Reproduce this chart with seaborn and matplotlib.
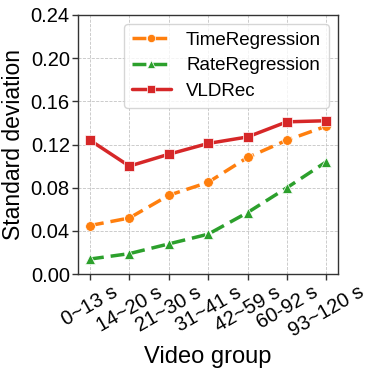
import matplotlib
matplotlib.use("Agg")
import matplotlib.pyplot as plt
import seaborn as sns
import pandas as pd

groups = ['0~13 s', '14~20 s', '21~30 s', '31~41 s', '42~59 s', '60-92 s', '93~120 s']
time_regression = [0.045, 0.052, 0.073, 0.085, 0.108, 0.124, 0.137]
rate_regression = [0.014, 0.019, 0.028, 0.037, 0.057, 0.080, 0.104]
vldrec = [0.124, 0.100, 0.111, 0.121, 0.127, 0.141, 0.142]
y_ticks = [0.00, 0.04, 0.08, 0.12, 0.16, 0.20, 0.24]

sns.set_style('ticks')
plt.rcParams['font.family'] = ['Liberation Sans', 'DejaVu Sans']
plt.rcParams['text.color'] = 'black'
plt.rcParams['axes.labelcolor'] = 'black'
plt.rcParams['xtick.color'] = 'black'
plt.rcParams['ytick.color'] = 'black'

df = pd.DataFrame({
    'group': groups * 3,
    'x': list(range(len(groups))) * 3,
    'value': time_regression + rate_regression + vldrec,
    'method': ['TimeRegression'] * 7 + ['RateRegression'] * 7 + ['VLDRec'] * 7,
})

fig = plt.figure(figsize=(3.74, 3.72), dpi=100)
ax = fig.add_axes([0.209, 0.263, 0.695, 0.697])

palette = {'TimeRegression': '#ff7f0e', 'RateRegression': '#2ca02c', 'VLDRec': '#d62728'}
markers = {'TimeRegression': 'o', 'RateRegression': '^', 'VLDRec': 's'}
dashes = {'TimeRegression': (4, 2), 'RateRegression': (4, 2), 'VLDRec': ''}

sns.lineplot(data=df, x='x', y='value', hue='method', style='method',
             palette=palette, markers=markers, dashes=dashes,
             linewidth=2.5, markersize=7, markeredgewidth=0.5, ax=ax)

ax.set_xlim(-0.3, 6.3)
ax.set_ylim(0, 0.24)
ax.set_xticks(range(len(groups)))
ax.set_xticklabels(groups, rotation=30, ha='center', fontsize=14.5)
ax.set_yticks(y_ticks)
ax.set_yticklabels([f'{t:.2f}' for t in y_ticks], fontsize=14.5)
ax.set_xlabel('Video group', fontsize=17)
ax.set_ylabel('Standard deviation', fontsize=16.5)
ax.grid(True, linestyle='--', color='#c4c4c4', linewidth=0.6)
for s in ax.spines.values():
    s.set_color('#333333')
    s.set_linewidth(1.0)
ax.tick_params(length=4, width=1, color='#333333', pad=2)

ax.legend(loc='upper right', fontsize=13.5, handlelength=2.1, handletextpad=0.8,
          framealpha=0.8, borderpad=0.4, labelspacing=0.45, markerscale=0.85)

fig.savefig('out.png', dpi=100)
